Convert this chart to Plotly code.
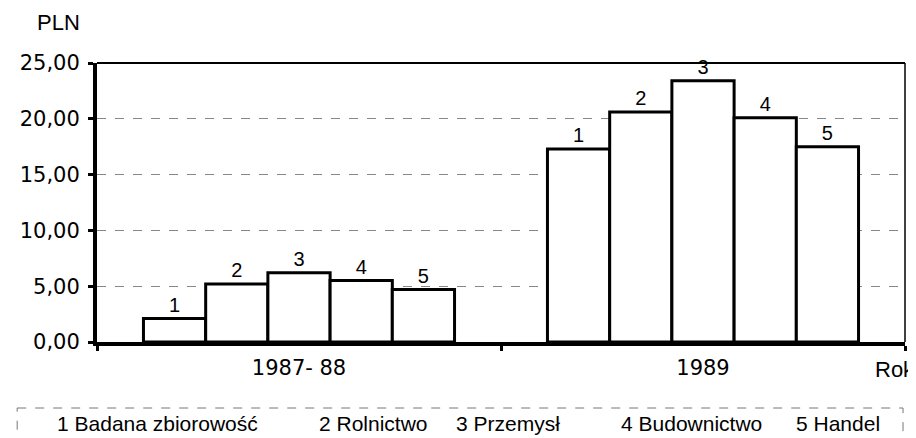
import plotly.graph_objects as go

# ---- data ----
categories = ["1987- 88", "1989"]
sector_numbers = ["1", "2", "3", "4", "5"]
sector_labels = ["1 Badana zbiorowość", "2 Rolnictwo", "3 Przemysł", "4 Budownictwo", "5 Handel"]
s1_badana = [2.1, 17.3]
s2_rolnictwo = [5.2, 20.6]
s3_przemysl = [6.2, 23.4]
s4_budownictwo = [5.5, 20.1]
s5_handel = [4.7, 17.5]
series = [s1_badana, s2_rolnictwo, s3_przemysl, s4_budownictwo, s5_handel]
y_tickvals = [0, 5, 10, 15, 20, 25]
y_ticktext = ["0,00", "5,00", "10,00", "15,00", "20,00", "25,00"]

# ---- layout geometry (screen pixels; page body has an 8px margin) ----
W, H = 916, 438
OFF = 8
PL, PR, PT, PB = 85, 905, 63, 342          # plot area on screen
L, R, T, B = PL - OFF, W - (PR - OFF), PT - OFF, H - (PB - OFF)
PW, PH = W - L - R, H - T - B
FONT = "Arial, Liberation Sans, sans-serif"
NUMFONT = "DejaVu Sans, sans-serif"

def px_x(sx):
    return (sx - OFF - L) / PW

def px_y(sy):
    return (H - B - (sy - OFF)) / PH

fig = go.Figure()
for num, label, vals in zip(sector_numbers, sector_labels, series):
    fig.add_trace(go.Bar(
        x=categories, y=vals, name=label,
        text=[num] * len(vals), textposition="outside",
        textfont=dict(family=FONT, size=20, color="black"),
        marker=dict(color="white", line=dict(color="black", width=3)),
        cliponaxis=False, showlegend=False, hoverinfo="skip",
    ))

legend_x_px = [42, 308, 447, 615, 792]
annotations = [
    dict(text="PLN", x=px_x(22), y=px_y(23), xref="paper", yref="paper",
         xanchor="left", yanchor="middle", showarrow=False,
         font=dict(family=FONT, size=22, color="black")),
    dict(text="Rok", x=px_x(873), y=px_y(369), xref="paper", yref="paper",
         xanchor="left", yanchor="middle", showarrow=False,
         font=dict(family=FONT, size=22, color="black")),
]
for lx, lab in zip(legend_x_px, sector_labels):
    annotations.append(dict(text=lab, x=px_x(lx), y=px_y(424), xref="paper", yref="paper",
                            xanchor="left", yanchor="middle", showarrow=False,
                            font=dict(family=FONT, size=21, color="black")))

shapes = [
    # top border
    dict(type="line", xref="paper", yref="paper", x0=0, x1=1, y0=1, y1=1,
         line=dict(color="black", width=2)),
    # right border
    dict(type="line", xref="paper", yref="paper", x0=1, x1=1, y0=0, y1=1,
         line=dict(color="black", width=1.5)),
    # legend box
    dict(type="rect", xref="paper", yref="paper", x0=px_x(4), x1=px_x(903),
         y0=px_y(408), y1=px_y(460),
         line=dict(color="#777777", width=1, dash="dash")),
]

fig.update_layout(
    width=W, height=H,
    margin=dict(l=L, r=R, t=T, b=B, pad=0),
    paper_bgcolor="white", plot_bgcolor="white",
    barmode="group", bargap=0.23, bargroupgap=0,
    font=dict(family=FONT, color="black"),
    annotations=annotations, shapes=shapes,
    xaxis=dict(
        showline=True, linecolor="black", linewidth=4,
        ticks="outside", tickson="boundaries", ticklen=5, tickwidth=3, tickcolor="black",
        tickfont=dict(family=NUMFONT, size=21, color="black"),
        ticklabelstandoff=4,
        showgrid=False, zeroline=False, fixedrange=True,
    ),
    yaxis=dict(
        range=[0, 25], tickvals=y_tickvals, ticktext=y_ticktext,
        showline=True, linecolor="black", linewidth=4,
        ticks="outside", ticklen=5, tickwidth=3, tickcolor="black",
        tickfont=dict(family=NUMFONT, size=21, color="black"),
        ticklabelstandoff=4,
        showgrid=True, gridcolor="#888888", gridwidth=1, griddash="dash",
        zeroline=False, fixedrange=True,
    ),
)

fig.write_html("out.html")
